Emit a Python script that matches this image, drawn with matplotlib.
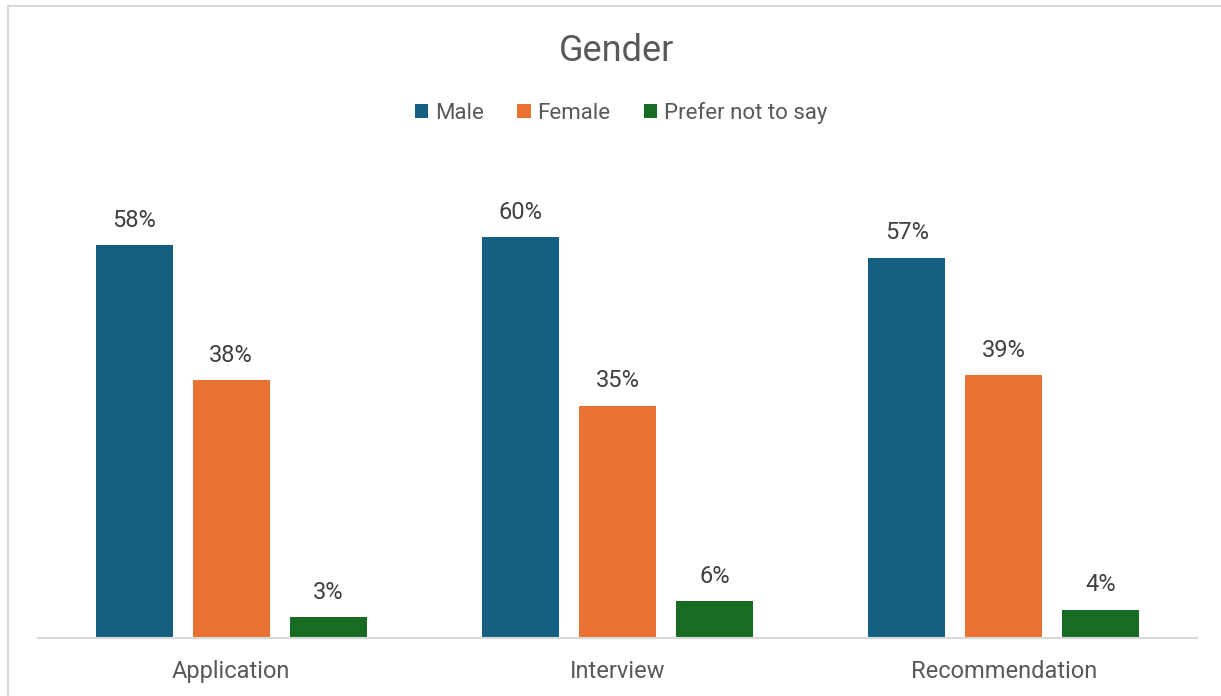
import matplotlib.pyplot as plt
from matplotlib.patches import Patch, Rectangle
import numpy as np

# Data (percent)
categories = ['Application', 'Interview', 'Recommendation']
series_names = ['Male', 'Female', 'Prefer not to say']
male = [58.5, 59.7, 56.6]
female = [38.4, 34.6, 39.1]
prefer_not = [3.1, 5.5, 4.2]
colors = ['#156082', '#E97132', '#196B24']

plt.rcParams['font.family'] = ['Roboto', 'DejaVu Sans']

fig = plt.figure(figsize=(12.21, 6.96), dpi=100)
ax = fig.add_axes([38 / 1221, 58 / 696, 1159 / 1221, 470 / 696])

x = np.arange(len(categories))
width = 0.2
step = 0.251
for i, (vals, col) in enumerate(zip([male, female, prefer_not], colors)):
    bars = ax.bar(x + (i - 1) * step, vals, width, color=col, label=series_names[i])
    for b, v in zip(bars, vals):
        ax.annotate(f'{round(v)}%', (b.get_x() + b.get_width() / 2, v),
                    xytext=(0, 18), textcoords='offset points',
                    ha='center', va='center', fontsize=17, color='#404040')

ax.set_xlim(-0.5, 2.5)
ax.set_ylim(0, 70)
ax.set_yticks([])
ax.set_xticks(x)
ax.set_xticklabels(categories, fontsize=17, color='#595959')
ax.tick_params(axis='x', length=0, pad=16)
for s in ['top', 'right', 'left']:
    ax.spines[s].set_visible(False)
ax.spines['bottom'].set_color('#D9D9D9')
ax.spines['bottom'].set_linewidth(1.5)

fig.text(617 / 1221, 1 - 51 / 696, 'Gender', ha='center', va='center',
         fontsize=26, color='#595959')

handles = [Patch(facecolor=c) for c in colors]
fig.legend(handles, series_names, loc='center', ncol=3, frameon=False,
           bbox_to_anchor=(621 / 1221, 1 - 113 / 696), fontsize=16,
           labelcolor='#595959', handlelength=0.6, handleheight=0.6,
           handletextpad=0.3, columnspacing=1.5)

# chart border (only top/left visible in the crop)
fig.patches.append(Rectangle((8 / 1221, -0.1), 1.2, 1 - 6 / 696 + 0.1,
                             transform=fig.transFigure, fill=False,
                             edgecolor='#D9D9D9', linewidth=1.5))

fig.savefig('out.png', dpi=100)
